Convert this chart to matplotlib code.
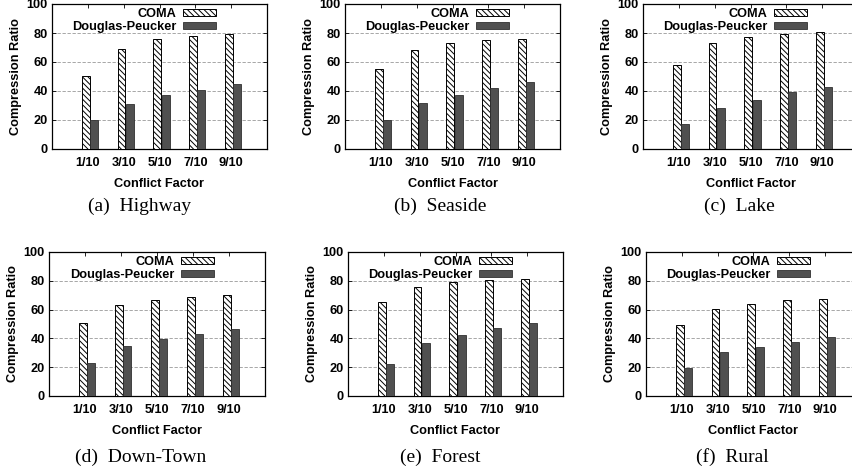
import numpy as np
import matplotlib
matplotlib.use('Agg')
import matplotlib.pyplot as plt
from matplotlib.patches import Patch

# conflict factor categories
factors = ['1/10', '3/10', '5/10', '7/10', '9/10']

# compression ratio per scenario
highway_coma = [50, 69, 76, 78, 79.5]
highway_dp = [20, 31, 37, 41, 44.5]
seaside_coma = [55, 68.5, 73, 75, 76]
seaside_dp = [20, 32, 37.5, 42, 46]
lake_coma = [58, 73, 77.5, 79.5, 80.5]
lake_dp = [17.5, 28, 34, 39.5, 43]
downtown_coma = [51, 63, 67, 68.5, 70]
downtown_dp = [23, 34.5, 39.5, 43, 46.5]
forest_coma = [65, 76, 79, 80.5, 81.5]
forest_dp = [22.5, 36.5, 42.5, 47, 50.5]
rural_coma = [49, 60.5, 64, 66.5, 67.5]
rural_dp = [19.5, 30.5, 34, 37.5, 41]

captions = ['(a)  Highway', '(b)  Seaside', '(c)  Lake',
            '(d)  Down-Town', '(e)  Forest', '(f)  Rural']

panels = [
    (highway_coma, highway_dp, 52, 4, 215, 145),
    (seaside_coma, seaside_dp, 345, 4, 215, 145),
    (lake_coma, lake_dp, 643, 4, 215, 145),
    (downtown_coma, downtown_dp, 49, 252, 216, 144),
    (forest_coma, forest_dp, 348, 252, 215, 144),
    (rural_coma, rural_dp, 646, 252, 215, 144),
]
caption_pos = [(140, 206), (440, 206), (739, 206),
               (141, 457), (440, 457), (732, 457)]

W, H = 852, 472
plt.rcParams['hatch.linewidth'] = 0.7
sans = 'Liberation Sans'
serif = 'Liberation Serif'
fs = 9.2

fig = plt.figure(figsize=(W / 100, H / 100), dpi=100)

bw = 0.22
x = np.arange(len(factors))

for (coma, dp, l, t, w, h), cap, (cx, cy) in zip(panels, captions, caption_pos):
    ax = fig.add_axes([l / W, 1 - (t + h) / H, w / W, h / H])
    ax.bar(x - 0.06, coma, width=bw, facecolor='white', edgecolor='black',
           hatch='\\\\\\\\\\\\', linewidth=0.7, zorder=3)
    ax.bar(x + 0.17, dp, width=bw, facecolor='#505050', edgecolor='#303030',
           linewidth=0.6, zorder=3)
    ax.set_xlim(-1, 5)
    ax.set_ylim(0, 100)
    ax.set_yticks([0, 20, 40, 60, 80, 100])
    ax.set_xticks(x)
    ax.set_xticklabels(factors)
    for lab in ax.get_xticklabels() + ax.get_yticklabels():
        lab.set_fontfamily(sans)
        lab.set_fontweight('bold')
        lab.set_fontsize(fs)
    ax.tick_params(direction='in', length=3, width=0.6, top=True, right=True, pad=3)
    ax.tick_params(axis='x', pad=6)
    ax.yaxis.grid(True, linestyle=(0, (4, 2)), color='#999999', linewidth=0.6, zorder=0)
    for s in ax.spines.values():
        s.set_linewidth(0.9)
    ax.set_ylabel('Compression Ratio', fontfamily=sans, fontweight='bold', fontsize=fs, labelpad=3)
    ax.set_xlabel('Conflict Factor', fontfamily=sans, fontweight='bold', fontsize=fs, labelpad=6)

    handles = [Patch(facecolor='white', edgecolor='black', hatch='\\\\\\\\\\\\', linewidth=0.7, label='COMA'),
               Patch(facecolor='#505050', edgecolor='#303030', linewidth=0.6, label='Douglas-Peucker')]
    ax.legend(handles=handles, loc='upper right', bbox_to_anchor=(0.763, 0.97),
              frameon=False, markerfirst=False, handlelength=2.6, handleheight=0.47,
              handletextpad=0.5, labelspacing=0.05, borderpad=0, borderaxespad=0,
              prop={'family': sans, 'weight': 'bold', 'size': fs})

    fig.text(cx / W, 1 - cy / H, cap, ha='center', va='center',
             fontfamily=serif, fontsize=14)

fig.savefig('out.png', dpi=100)
